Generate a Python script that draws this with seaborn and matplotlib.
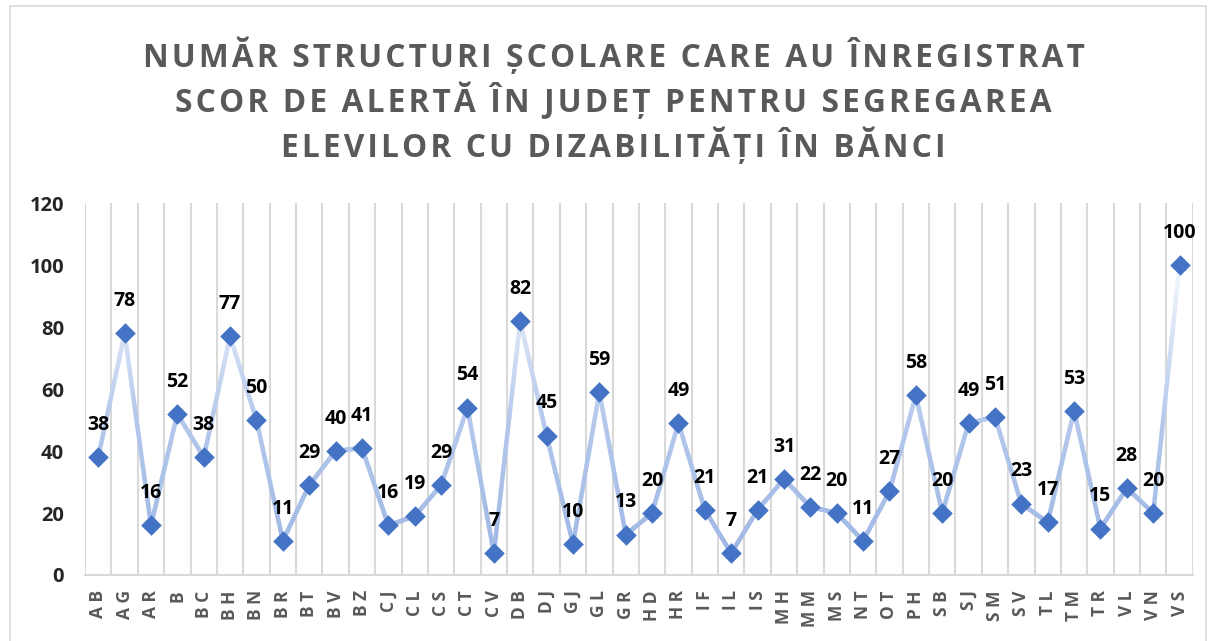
import numpy as np
import pandas as pd
import matplotlib
matplotlib.use("Agg")
import matplotlib.pyplot as plt
import seaborn as sns
from matplotlib.collections import LineCollection
from matplotlib.colors import LinearSegmentedColormap
from matplotlib.patches import Rectangle

# judete (county codes) and counts
judete = ['AB', 'AG', 'AR', 'B', 'BC', 'BH', 'BN', 'BR', 'BT', 'BV', 'BZ', 'CJ', 'CL', 'CS',
          'CT', 'CV', 'DB', 'DJ', 'GJ', 'GL', 'GR', 'HD', 'HR', 'IF', 'IL', 'IS', 'MH', 'MM',
          'MS', 'NT', 'OT', 'PH', 'SB', 'SJ', 'SM', 'SV', 'TL', 'TM', 'TR', 'VL', 'VN', 'VS']
structuri = [38, 78, 16, 52, 38, 77, 50, 11, 29, 40, 41, 16, 19, 29,
             54, 7, 82, 45, 10, 59, 13, 20, 49, 21, 7, 21, 31, 22,
             20, 11, 27, 58, 20, 49, 51, 23, 17, 53, 15, 28, 20, 100]
y_ticks = [0, 20, 40, 60, 80, 100, 120]
titlu = ["NUMĂR STRUCTURI ȘCOLARE CARE AU ÎNREGISTRAT",
         "SCOR DE ALERTĂ ÎN JUDEȚ PENTRU SEGREGAREA",
         "ELEVILOR CU DIZABILITĂȚI ÎN BĂNCI"]

df = pd.DataFrame({'judet': judete, 'nr': structuri})
df['poz'] = np.arange(len(df))

sns.set_style("white")
plt.rcParams['font.family'] = ['Open Sans', 'DejaVu Sans']


def rar(s, sp='\u200a'):
    # letter spacing like the original title
    return sp.join(s)


fig = plt.figure(figsize=(12.08, 6.41), dpi=100)
ax = fig.add_axes([0.0704, 0.103, 0.917, 0.580])

# light grey frame round the whole chart
fig.patches.append(Rectangle((0.008, -0.01), 0.99, 1.0, transform=fig.transFigure,
                             fill=False, edgecolor='#D9D9D9', lw=1.2))

# line fading towards white as it goes up
cmap = LinearSegmentedColormap.from_list('fade', ['#9CB6E3', '#B4C8EC', '#F4F7FC'])
xs, ys = [], []
for i in range(len(df) - 1):
    t = np.linspace(0, 1, 30)
    xs.append(df.poz[i] + t * (df.poz[i + 1] - df.poz[i]))
    ys.append(df.nr[i] + t * (df.nr[i + 1] - df.nr[i]))
xx = np.concatenate(xs)
yy = np.concatenate(ys)
pts = np.column_stack([xx, yy]).reshape(-1, 1, 2)
segs = np.concatenate([pts[:-1], pts[1:]], axis=1)
lc = LineCollection(segs, cmap=cmap, norm=plt.Normalize(0, 100), linewidth=3.2,
                    capstyle='round', zorder=2)
lc.set_array((yy[:-1] + yy[1:]) / 2)
ax.add_collection(lc)

sns.scatterplot(data=df, x='poz', y='nr', marker='D', s=110, color='#4472C4',
                edgecolor='#4472C4', linewidth=0, zorder=3, ax=ax)

for _, r in df.iterrows():
    ax.annotate(str(r.nr), (r.poz, r.nr), xytext=(0, 16), textcoords='offset points',
                ha='center', va='bottom', fontsize=14, fontweight='bold', color='black')

ax.set_xlim(-0.5, len(df) - 0.5)
ax.set_ylim(0, 120)
ax.set_yticks(y_ticks)
ax.set_yticklabels([str(v) for v in y_ticks], fontsize=14.5, fontweight='bold')
ax.set_xticks(df.poz)
ax.set_xticklabels([' '.join(j) for j in judete], rotation=90, fontsize=12.5,
                   fontweight='bold', color='#595959')
ax.set_xticks(np.arange(-0.5, len(df)), minor=True)
ax.tick_params(axis='both', which='both', length=0)
ax.tick_params(axis='x', pad=11)
ax.tick_params(axis='y', pad=15)
ax.grid(False)
ax.grid(True, axis='x', which='minor', color='#D9D9D9', lw=1.5)
for s in ['top', 'right', 'left']:
    ax.spines[s].set_visible(False)
ax.spines['bottom'].set_color('#D9D9D9')
ax.spines['bottom'].set_linewidth(1.5)
ax.set_xlabel('')
ax.set_ylabel('')

for k, linie in enumerate(titlu):
    fig.text(0.508, 0.913 - k * 0.0705, rar(linie), ha='center', va='center', fontsize=22.8,
             fontweight='bold', color='#595959')

fig.savefig('out.png', dpi=100)
